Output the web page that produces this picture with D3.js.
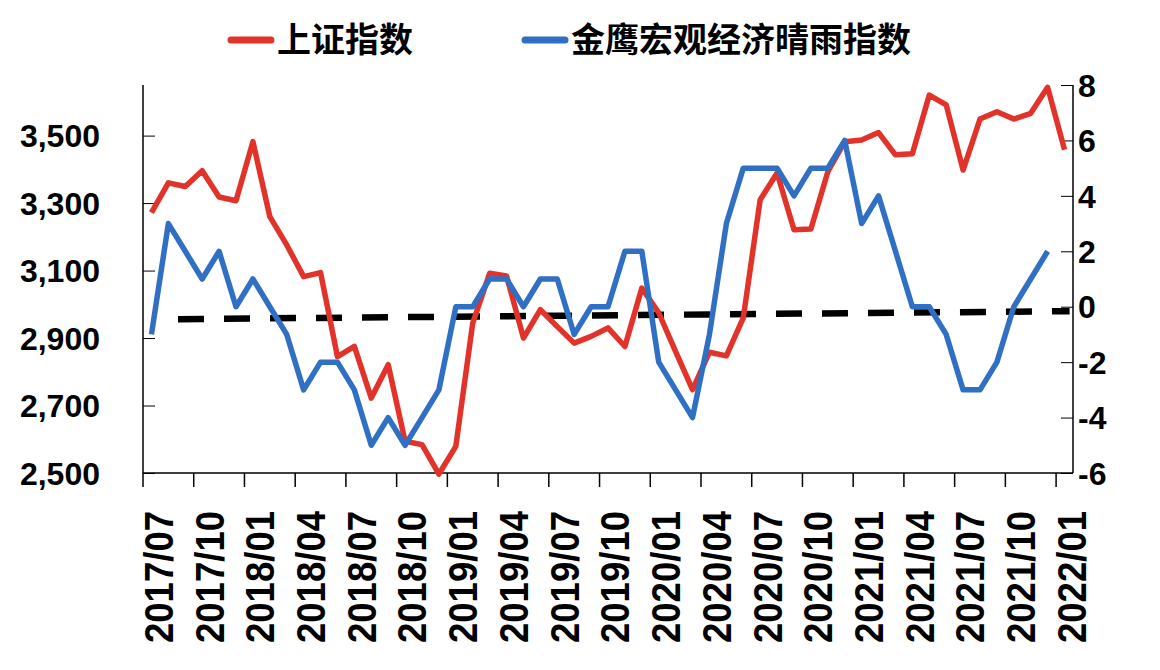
<!DOCTYPE html>
<html lang="zh">
    <head>
        <meta charset="utf-8">
        <title> 上证指数 vs 晴雨指数 </title>
        <script src="https://d3js.org/d3.v7.min.js"></script>
        <style type="text/css">
            html, body { margin: 0; padding: 0; background: #fff; overflow: hidden; }
            svg { display: block; }
            .tick-label { font-family: "Liberation Sans", Arial, sans-serif; font-weight: bold; fill: #000; }
        </style>
    </head>
    <body>
        <script type="text/javascript">

// size of the page
var w = 1160;
var h = 670;

var margin = {top: 85, right: 87, bottom: 197, left: 143};
var innerWidth = w - margin.left - margin.right;
var innerHeight = h - margin.top - margin.bottom;

// months, 2017/07 .. 2022/01
var months = ["2017/07","2017/08","2017/09","2017/10","2017/11","2017/12",
              "2018/01","2018/02","2018/03","2018/04","2018/05","2018/06",
              "2018/07","2018/08","2018/09","2018/10","2018/11","2018/12",
              "2019/01","2019/02","2019/03","2019/04","2019/05","2019/06",
              "2019/07","2019/08","2019/09","2019/10","2019/11","2019/12",
              "2020/01","2020/02","2020/03","2020/04","2020/05","2020/06",
              "2020/07","2020/08","2020/09","2020/10","2020/11","2020/12",
              "2021/01","2021/02","2021/03","2021/04","2021/05","2021/06",
              "2021/07","2021/08","2021/09","2021/10","2021/11","2021/12",
              "2022/01"];

// 上证指数 (left axis)
var shIndex = [3272, 3360, 3349, 3396, 3318, 3307, 3482, 3260, 3176, 3082, 3094, 2845,
               2875, 2722, 2821, 2594, 2584, 2497, 2579, 2944, 3092, 3084, 2900, 2984,
               2934, 2885, 2905, 2930, 2875, 3048, 2975, 2860, 2747, 2858, 2847, 2960,
               3310, 3389, 3221, 3223, 3393, 3482, 3487, 3509, 3443, 3446, 3620, 3591,
               3398, 3549, 3571, 3549, 3566, 3643, 3458];

// 金鹰宏观经济晴雨指数 (right axis), ends 2021/12
var jyIndex = [-1, 3, 2, 1, 2, 0, 1, 0, -1, -3, -2, -2,
               -3, -5, -4, -5, -4, -3, 0, 0, 1, 1, 0, 1,
               1, -1, 0, 0, 2, 2, -2, -3, -4, -1, 3, 5,
               5, 5, 4, 5, 5, 6, 3, 4, 2, 0, 0, -1,
               -3, -3, -2, 0, 1, 2];

// dashed trend line: [month position, value] at both ends
var trendPos = [1.57, 54.3];
var trendVal = [-0.45, -0.16];

// axis ticks
var leftTicks = [2500, 2700, 2900, 3100, 3300, 3500];
var rightTicks = [-6, -4, -2, 0, 2, 4, 6, 8];
var xTickLabels = months.filter(function(d, i){ return i % 3 === 0; });

var seriesNames = ["上证指数", "金鹰宏观经济晴雨指数"];
var colors = ["#e2332a", "#2f6fc4"];

// scales
var xBand = d3.scaleBand()
              .domain(months)
              .range([0, innerWidth]);

var xPos = d3.scaleLinear()
             .domain([0, months.length - 1])
             .range([xBand.bandwidth() / 2, innerWidth - xBand.bandwidth() / 2]);

var yLeft = d3.scaleLinear()
              .domain([2500, 3650])
              .range([innerHeight, 0]);

var yRight = d3.scaleLinear()
               .domain([-6, 8])
               .range([innerHeight, 0]);

var svg = d3.select("body")
            .append("svg")
            .attr("width", w)
            .attr("height", h);

var g = svg.append("g")
           .attr("transform", `translate(${margin.left},${margin.top})`);

// left axis (ticks point inward)
var leftAxis = g.append("g")
                .call(d3.axisRight(yLeft)
                        .tickValues(leftTicks)
                        .tickSize(12)
                        .tickFormat(d3.format(",")));
leftAxis.select(".domain").remove();
leftAxis.selectAll("text")
        .attr("class", "tick-label")
        .attr("x", -43)
        .attr("text-anchor", "end")
        .attr("dy", "0.35em")
        .style("font-size", "32px");

// right axis
var rightAxis = g.append("g")
                 .attr("transform", `translate(${innerWidth},0)`)
                 .call(d3.axisLeft(yRight)
                         .tickValues(rightTicks)
                         .tickSize(12)
                         .tickFormat(function(d){ return String(d); }));
rightAxis.select(".domain").remove();
rightAxis.selectAll("text")
         .attr("class", "tick-label")
         .attr("x", 5)
         .attr("text-anchor", "start")
         .attr("dy", "0.35em")
         .style("font-size", "32px");

// bottom axis: ticks at the start of every third month
var bottomAxis = g.append("g")
                  .attr("transform", `translate(0,${innerHeight})`);

bottomAxis.selectAll("line.xtick")
          .data(xTickLabels)
          .enter()
          .append("line")
          .attr("class", "xtick")
          .attr("x1", function(d){ return xBand(d); })
          .attr("x2", function(d){ return xBand(d); })
          .attr("y1", 0)
          .attr("y2", 14)
          .attr("stroke", "#000")
          .attr("stroke-width", 1.5);

bottomAxis.selectAll("text")
          .data(xTickLabels)
          .enter()
          .append("text")
          .attr("class", "tick-label")
          .attr("transform", function(d){
              var cx = xBand(d) + xBand.bandwidth() / 2 + 7;
              return `translate(${cx},38) rotate(-90)`;
          })
          .attr("text-anchor", "end")
          .attr("dy", "0.36em")
          .attr("textLength", 132)
          .attr("lengthAdjust", "spacingAndGlyphs")
          .style("font-size", "40px")
          .text(function(d){ return d; });

// frame lines: left, right, bottom
g.append("line")
 .attr("x1", 0).attr("x2", 0).attr("y1", 0).attr("y2", innerHeight)
 .attr("stroke", "#000").attr("stroke-width", 1.5);
g.append("line")
 .attr("x1", innerWidth).attr("x2", innerWidth).attr("y1", 0).attr("y2", innerHeight)
 .attr("stroke", "#000").attr("stroke-width", 1.5);
g.append("line")
 .attr("x1", 0).attr("x2", innerWidth).attr("y1", innerHeight).attr("y2", innerHeight)
 .attr("stroke", "#000").attr("stroke-width", 1.5);

// dashed trend
var trendLine = d3.line()
                  .x(function(d){ return xPos(d[0]); })
                  .y(function(d){ return yRight(d[1]); });

g.append("path")
 .datum(d3.zip(trendPos, trendVal))
 .attr("d", trendLine)
 .attr("fill", "none")
 .attr("stroke", "#000")
 .attr("stroke-width", 6.5)
 .attr("stroke-dasharray", "26 20");

// 上证指数 line
var shLine = d3.line()
               .x(function(d, i){ return xPos(i); })
               .y(function(d){ return yLeft(d); });

g.append("path")
 .datum(shIndex)
 .attr("d", shLine)
 .attr("fill", "none")
 .attr("stroke", colors[0])
 .attr("stroke-width", 5.5)
 .attr("stroke-linejoin", "round");

// 晴雨指数 line
var jyLine = d3.line()
               .x(function(d, i){ return xPos(i); })
               .y(function(d){ return yRight(d); });

g.append("path")
 .datum(jyIndex)
 .attr("d", jyLine)
 .attr("fill", "none")
 .attr("stroke", colors[1])
 .attr("stroke-width", 5.5)
 .attr("stroke-linejoin", "round");

// legend
var legendX = [231, 525];
var legend = svg.selectAll("g.legend")
                .data(seriesNames)
                .enter()
                .append("g")
                .attr("class", "legend")
                .attr("transform", function(d, i){ return `translate(${legendX[i]},40)`; });

legend.append("line")
      .attr("x1", 0).attr("x2", 40)
      .attr("y1", 0).attr("y2", 0)
      .attr("stroke", function(d, i){ return colors[i]; })
      .attr("stroke-width", 7)
      .attr("stroke-linecap", "round");

legend.append("text")
      .attr("x", 46)
      .attr("y", 0)
      .attr("dy", "0.36em")
      .attr("font-family", "'Noto Sans CJK SC', sans-serif")
      .attr("font-weight", "bold")
      .attr("font-size", "34px")
      .attr("fill", "#000")
      .text(function(d){ return d; });

        </script>
    </body>
</html>
